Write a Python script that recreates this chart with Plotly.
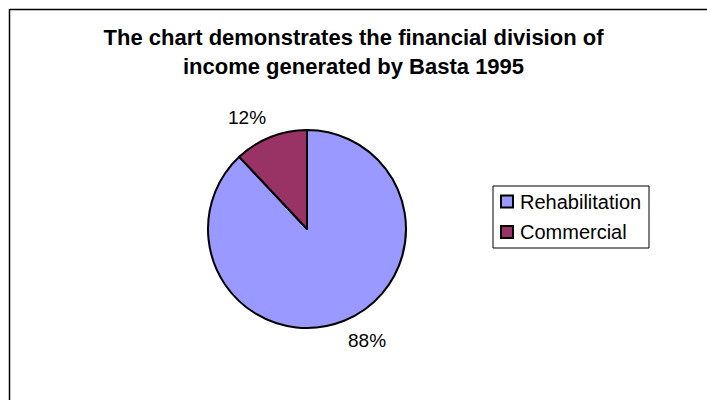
import math
import plotly.graph_objects as go

# Income split for Basta, 1995
labels = ["Rehabilitation", "Commercial"]
values = [88, 12]
colors = ["#9999FF", "#993366"]

title_text = "The chart demonstrates the financial division of<br>income generated by Basta 1995"

W, H = 707, 400
FONT = "Liberation Sans, Arial, Helvetica, sans-serif"


def px(x):
    return x / W


def py(y):
    return 1 - y / H


# pie placement in pixels (centre and radius)
cx, cy, r = 307, 229, 99
dom_x = [px(cx - r), px(cx + r)]
dom_y = [py(cy + r), py(cy - r)]

fig = go.Figure(
    go.Pie(
        labels=labels,
        values=values,
        sort=False,
        direction="clockwise",
        rotation=0,
        marker=dict(colors=colors, line=dict(color="black", width=2)),
        textinfo="none",
        hoverinfo="label+value+percent",
        domain=dict(x=dom_x, y=dom_y),
        showlegend=False,
    )
)

# percentage labels just outside each slice, anchored by their corner
total = sum(values)
cum = 0
label_gap = 8
for v in values:
    mid = (cum + v / 2) / total * 2 * math.pi  # clockwise from 12 o'clock
    cum += v
    s, c = math.sin(mid), math.cos(mid)
    ax = cx + (r + label_gap) * s
    ay = cy - (r + label_gap) * c
    fig.add_annotation(
        x=px(ax), y=py(ay), xref="paper", yref="paper",
        text=f"{v / total * 100:.0f}%",
        showarrow=False,
        xanchor="left" if s > 0 else "right",
        yanchor="top" if c < 0 else "bottom",
        font=dict(family=FONT, size=19, color="black"),
    )

# legend box with a swatch and name per category
leg_x0, leg_x1, leg_y0, leg_y1 = 493, 649, 186, 248
row_y = [201.5, 232]
fig.add_shape(type="rect", xref="paper", yref="paper",
              x0=px(leg_x0), x1=px(leg_x1), y0=py(leg_y1), y1=py(leg_y0),
              line=dict(color="black", width=1), fillcolor="white")
for name, col, yy in zip(labels, colors, row_y):
    fig.add_shape(type="rect", xref="paper", yref="paper",
                  x0=px(501), x1=px(513), y0=py(yy + 6), y1=py(yy - 6),
                  line=dict(color="black", width=2), fillcolor=col)
    fig.add_annotation(x=px(518), y=py(yy), xref="paper", yref="paper",
                       text=name, showarrow=False,
                       xanchor="left", yanchor="middle",
                       font=dict(family=FONT, size=20, color="black"))

# chart-area frame (top and left edges fall inside the page)
fig.add_shape(type="line", xref="paper", yref="paper",
              x0=px(10), x1=1.01, y0=py(9.5), y1=py(9.5),
              line=dict(color="black", width=1.5))
fig.add_shape(type="line", xref="paper", yref="paper",
              x0=px(9.5), x1=px(9.5), y0=-0.01, y1=py(9),
              line=dict(color="black", width=1.5))

fig.update_layout(
    width=W,
    height=H,
    margin=dict(l=0, r=0, t=0, b=0),
    paper_bgcolor="white",
    plot_bgcolor="white",
    font=dict(family=FONT, color="black"),
    title=dict(
        text=title_text,
        x=0.5,
        xanchor="center",
        y=py(45),
        yanchor="top",
        font=dict(family=FONT, size=22, color="black", weight="bold"),
    ),
    showlegend=False,
)

fig.write_html("out.html")
